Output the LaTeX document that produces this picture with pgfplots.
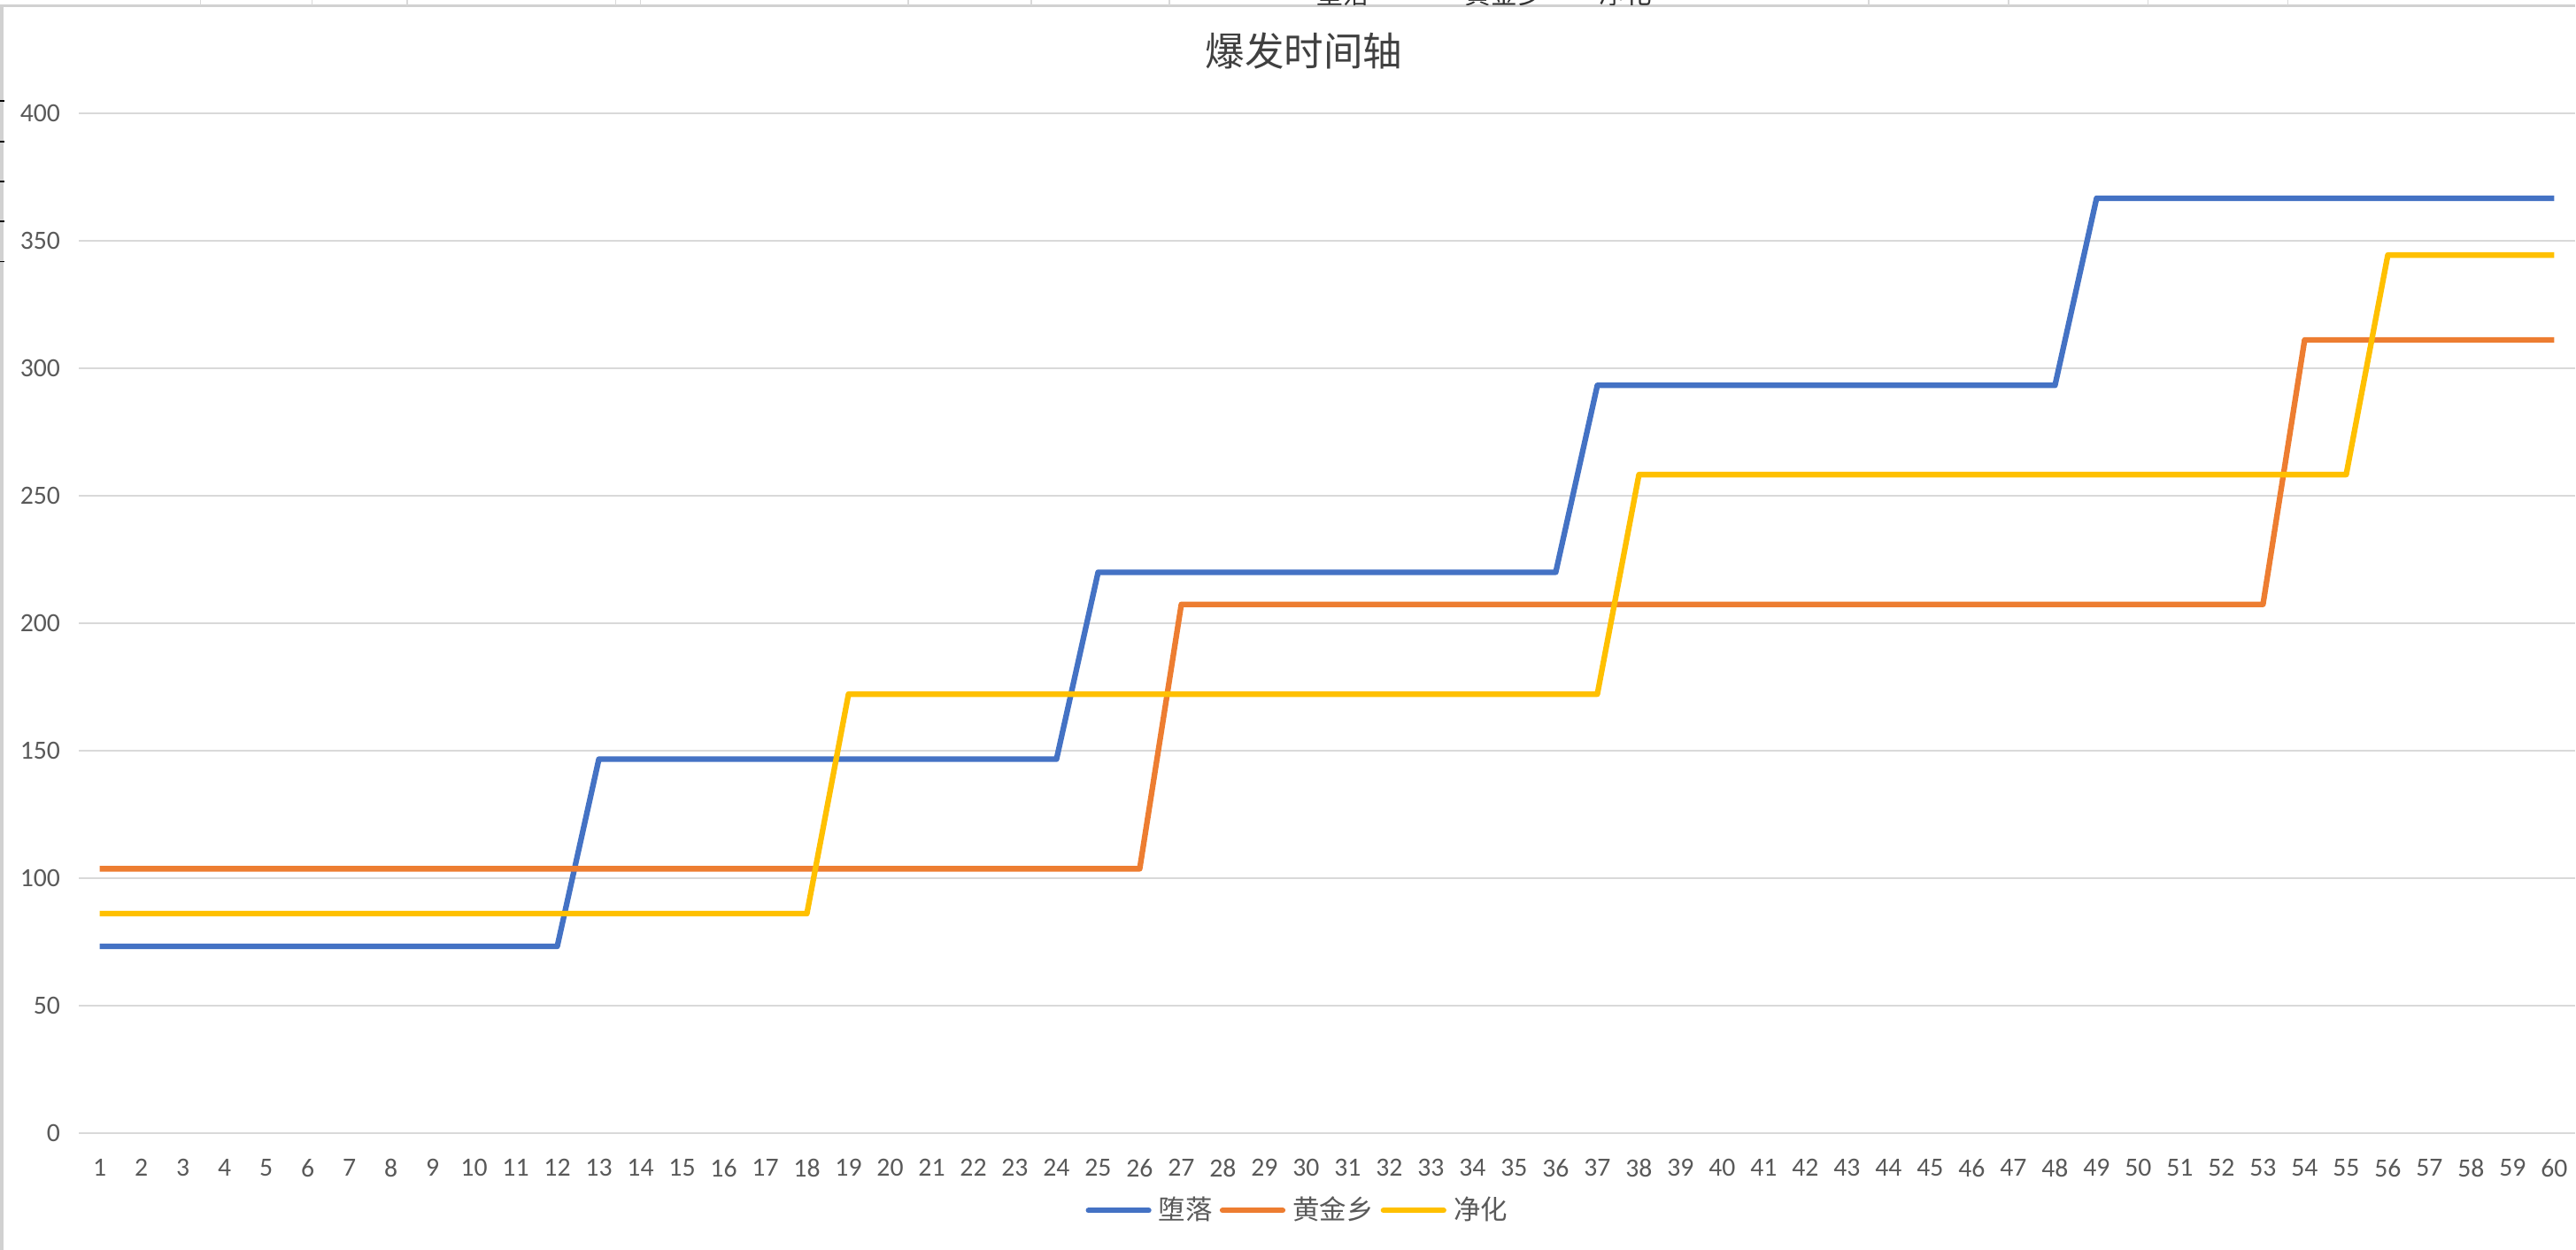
\documentclass[border=0pt]{standalone}
\usepackage{fontspec}
\setmainfont{Carlito}
\newfontfamily\song{Noto Sans CJK SC}
\usepackage{pgfplots}
\pgfplotsset{compat=1.18}

\definecolor{cblue}{HTML}{4472C4}
\definecolor{corange}{HTML}{ED7D31}
\definecolor{cyellow}{HTML}{FFC000}
\definecolor{gridc}{HTML}{D9D9D9}
\definecolor{txt}{HTML}{595959}

\begin{document}
\begin{tikzpicture}
% page frame, in screen pixels (1568 x 761)
\begin{scope}[x=0.5pt,y=0.5pt]
  \path[use as bounding box] (0,0) rectangle (1568,761);
  \draw[line width=1pt, draw=black!18] (0,757.5) -- (1568,757.5);
  \draw[line width=1pt, draw=black!18] (1.2,0) -- (1.2,757.5);
  \foreach \y in {699.5,674.7,650.4,626.1,601.7}
    \draw[line width=0.5pt] (0,\y) -- (2.5,\y);
  \begin{scope}
    \clip (0,758.2) rectangle (1568,761);
    \foreach \x in {122,190,248,375,390,553,628,712,1138,1223,1308,1393}
      \draw[black!15, line width=0.4pt] (\x,758) -- (\x,761);
    \node[font=\song\fontsize{8}{8}\selectfont, text=black!80, anchor=base] at (818,758.8) {堕落};
    \node[font=\song\fontsize{8}{8}\selectfont, text=black!80, anchor=base] at (916,758.8) {黄金乡};
    \node[font=\song\fontsize{8}{8}\selectfont, text=black!80, anchor=base] at (990,758.8) {净化};
  \end{scope}
  \node[font=\song\fontsize{12}{14}\selectfont, text=black!75] at (794,730) {爆发时间轴};
\end{scope}

\begin{axis}[
    at={(24pt,35.5pt)}, anchor=south west,
    scale only axis,
    width=760pt, height=310.5pt,
    xmin=0.5, xmax=60.5,
    ymin=0, ymax=400,
    xtick={1,2,...,60},
    ytick={0,50,...,400},
    axis line style={draw=none},
    tick style={draw=none},
    major tick length=0pt,
    ymajorgrids,
    grid style={gridc, line width=0.6pt},
    /pgf/number format/assume math mode=true,
    ticklabel style={font=\fontsize{8}{10}\selectfont, text=txt},
    xticklabel style={anchor=north, inner sep=0pt, yshift=-7.6pt},
    yticklabel style={anchor=east, inner sep=0pt, xshift=-5.5pt},
    clip=false,
    legend columns=-1,
    legend style={
        at={(0.4893,-0.0757)}, anchor=center,
        draw=none, fill=none,
        font=\song\fontsize{8.2}{9}\selectfont, text=txt,
        nodes={inner sep=2.2pt},
        /tikz/every odd column/.append style={column sep=0pt},
        /tikz/every even column/.append style={column sep=0pt},
    },
    legend image code/.code={\draw[#1, line cap=round] (0pt,0pt) -- (18.3pt,0pt);},
]
% 堕落
\addplot[cblue, line width=1.7pt, line join=round] coordinates {
    (1,73.3) (12,73.3) (13,146.7) (24,146.7) (25,220) (36,220)
    (37,293.3) (48,293.3) (49,366.7) (60,366.7)};
\addlegendentry{堕落}
% 黄金乡
\addplot[corange, line width=1.7pt, line join=round] coordinates {
    (1,103.7) (26,103.7) (27,207.4) (53,207.4) (54,311.1) (60,311.1)};
\addlegendentry{黄金乡}
% 净化
\addplot[cyellow, line width=1.7pt, line join=round] coordinates {
    (1,86.1) (18,86.1) (19,172.2) (37,172.2) (38,258.3) (55,258.3)
    (56,344.4) (60,344.4)};
\addlegendentry{净化}
\end{axis}
\end{tikzpicture}
\end{document}
